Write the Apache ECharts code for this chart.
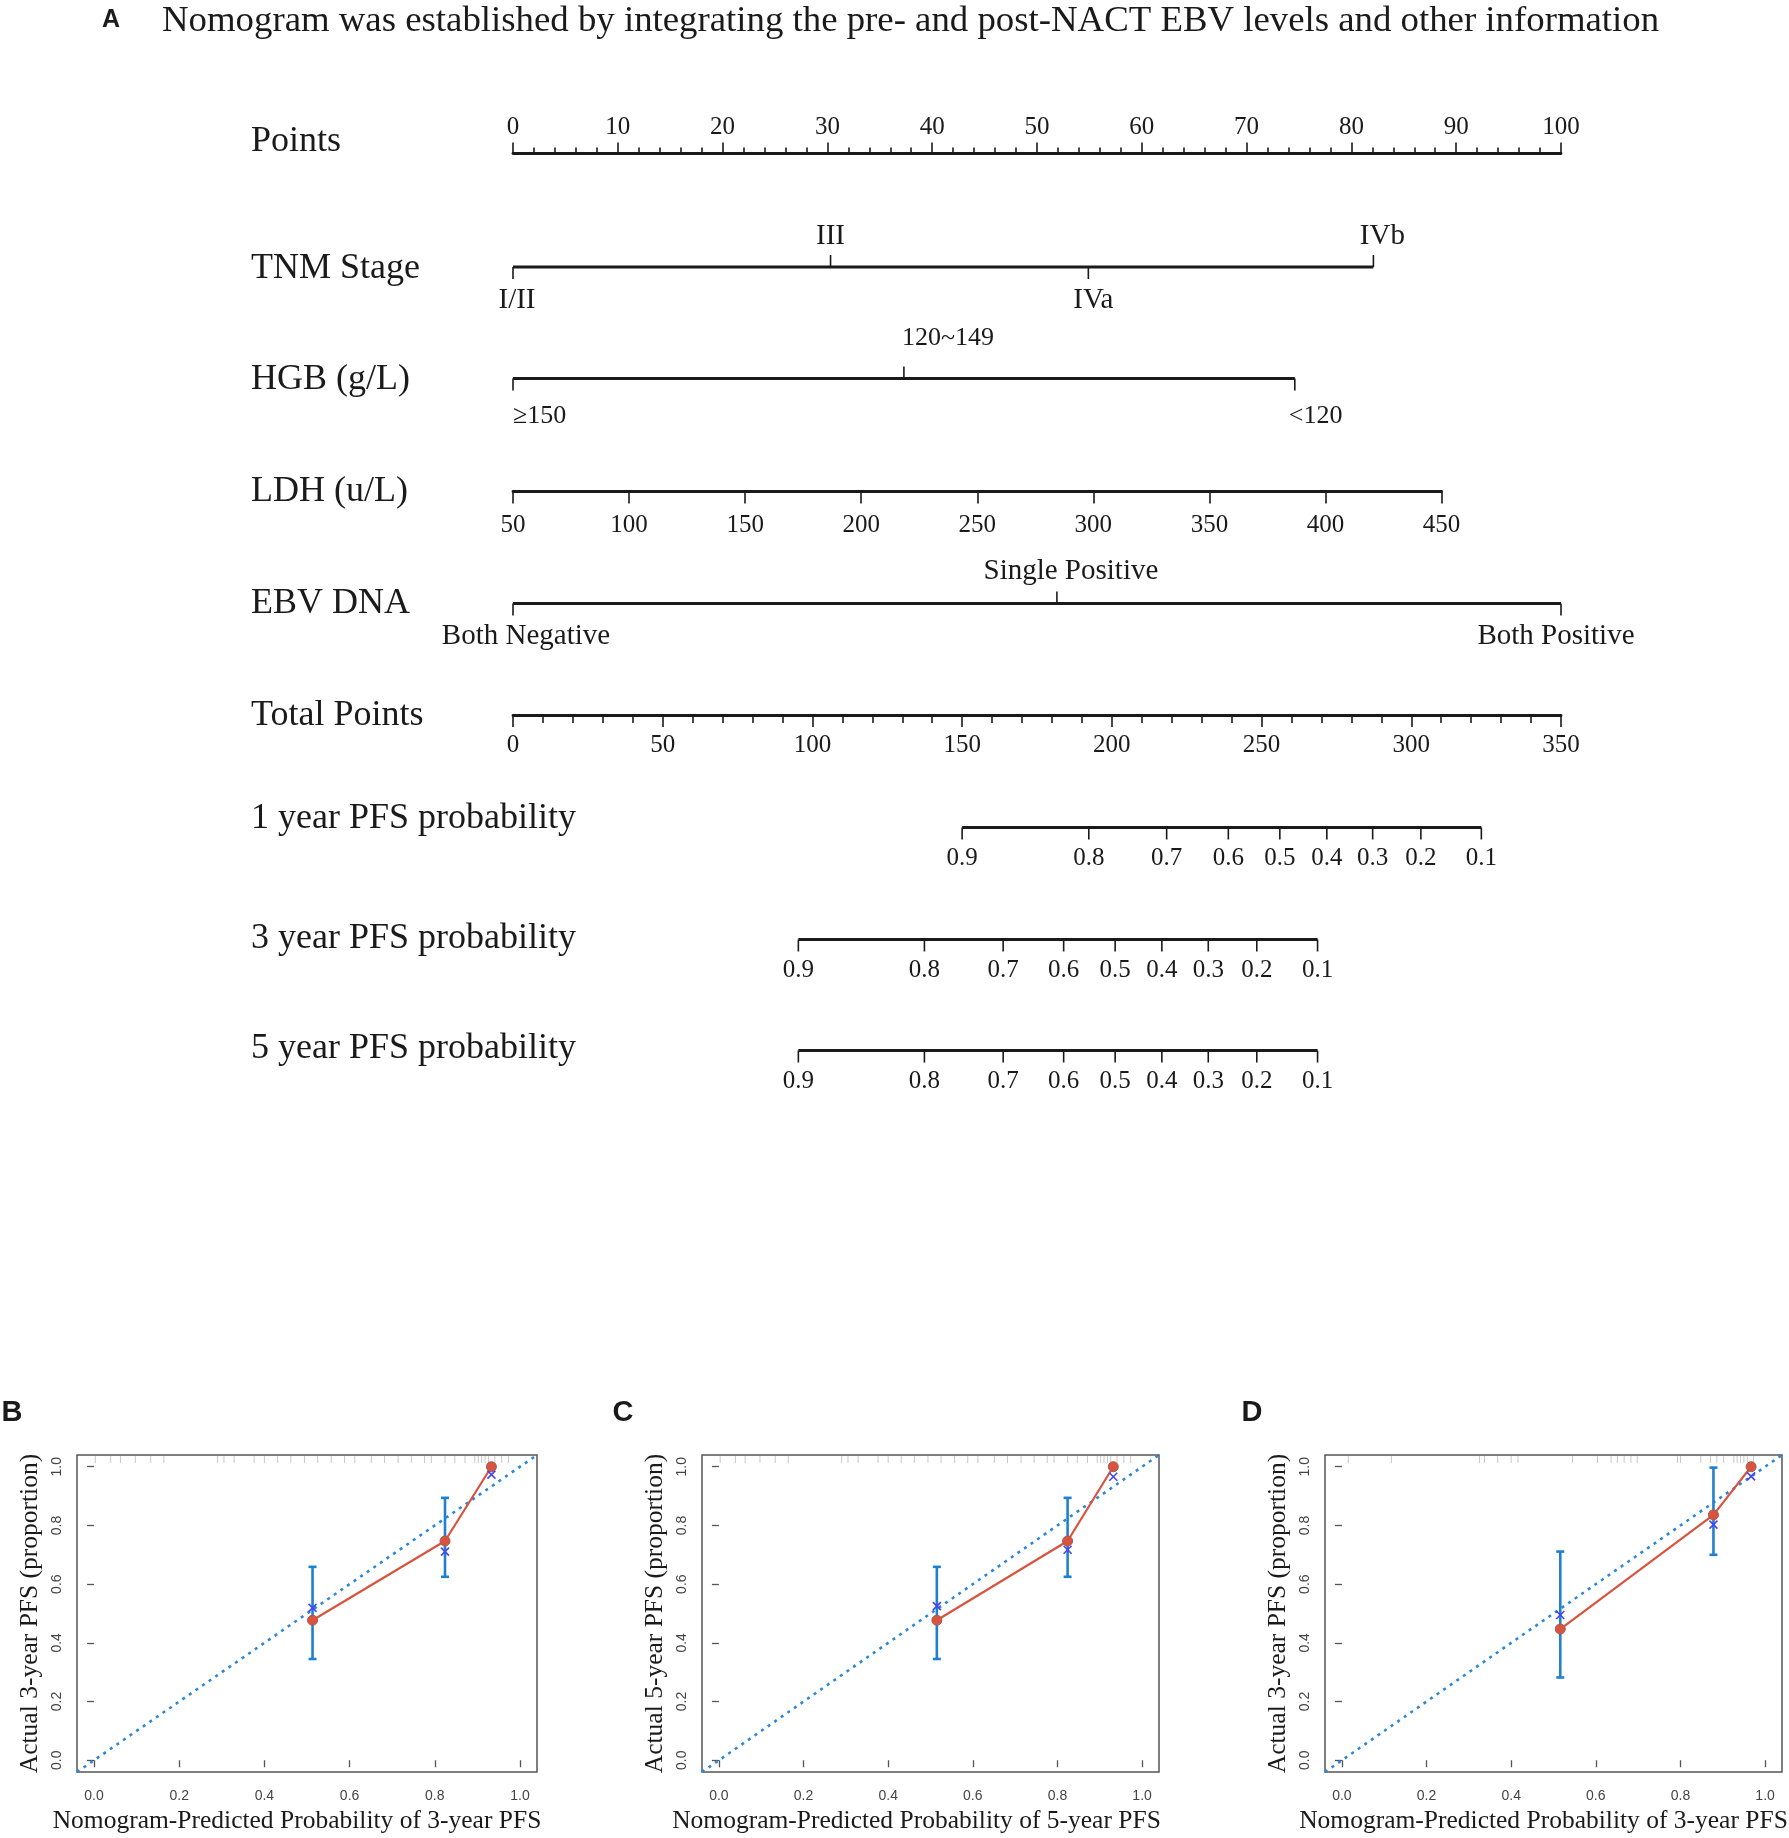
<!DOCTYPE html>
<html>
<head>
<meta charset="utf-8">
<title>Nomogram and calibration curves</title>
<script src="https://cdn.jsdelivr.net/npm/echarts@6/dist/echarts.min.js"></script>
<style>
  html, body { margin: 0; padding: 0; background: #fff; }
  #chart { width: 1789px; height: 1838px; }
</style>
</head>
<body>
<div id="chart"></div>
<script>
// ---------------- nomogram values (points scale 0-100) ----------------
const rowNames = ['Points', 'TNM Stage', 'HGB (g/L)', 'LDH (u/L)', 'EBV DNA', 'Total Points',
  '1 year PFS probability', '3 year PFS probability', '5 year PFS probability'];

const tnmLabels = ['I/II', 'III', 'IVa', 'IVb'];
const tnmPoints = [0, 30.3, 54.9, 82.1];

const hgbLabels = ['\u2265150', '120~149', '<120'];
const hgbPoints = [0, 37.3, 74.6];

const ldhMin = 50, ldhMax = 450, ldhStep = 50;
const ldhPointsAtMax = 88.6;

const ebvLabels = ['Both Negative', 'Single Positive', 'Both Positive'];
const ebvPoints = [0, 51.9, 100];

// probability scales, positions in total points (0-350)
const pfsLabels = ['0.9', '0.8', '0.7', '0.6', '0.5', '0.4', '0.3', '0.2', '0.1'];
const pfs1Total = [150.0, 192.3, 218.3, 238.9, 256.1, 271.8, 287.1, 303.2, 323.4];
const pfs3Total = [95.3, 137.4, 163.7, 183.9, 201.1, 216.7, 232.2, 248.4, 268.7];
const pfs5Total = [95.3, 137.4, 163.7, 183.9, 201.1, 216.7, 232.2, 248.4, 268.7];

// ---------------- calibration values ----------------
const calTicks = [0, 0.2, 0.4, 0.6, 0.8, 1.0];

const calBPred = [0.513, 0.824, 0.933];
const calBObs  = [0.477, 0.747, 1.0];
const calBLow  = [0.345, 0.625, null];
const calBHigh = [0.659, 0.894, null];
const calBCorr = [0.519, 0.711, 0.973];
const rugB = [0.003, 0.039, 0.062, 0.097, 0.133, 0.164, 0.29, 0.305, 0.329, 0.376, 0.40, 0.431, 0.462,
  0.494, 0.525, 0.557, 0.588, 0.612, 0.651, 0.682, 0.714, 0.745, 0.776, 0.792, 0.824, 0.847, 0.871,
  0.894, 0.902, 0.91, 0.918, 0.926, 0.941, 0.957, 0.973];

const calCPred = [0.515, 0.824, 0.932];
const calCObs  = [0.477, 0.747, 1.0];
const calCLow  = [0.345, 0.625, null];
const calCHigh = [0.659, 0.894, null];
const calCCorr = [0.525, 0.717, 0.966];
const rugC = [0.003, 0.039, 0.062, 0.097, 0.133, 0.164, 0.29, 0.305, 0.329, 0.376, 0.40, 0.431, 0.462,
  0.494, 0.525, 0.557, 0.588, 0.612, 0.651, 0.682, 0.714, 0.745, 0.776, 0.792, 0.824, 0.847, 0.871,
  0.894, 0.902, 0.91, 0.918, 0.926, 0.941, 0.957, 0.973];

const calDPred = [0.516, 0.878, 0.967];
const calDObs  = [0.447, 0.836, 1.0];
const calDLow  = [0.282, 0.700, null];
const calDHigh = [0.711, 0.997, null];
const calDCorr = [0.495, 0.803, 0.967];
const rugD = [0.015, 0.117, 0.325, 0.337, 0.368, 0.40, 0.416, 0.545, 0.604, 0.636, 0.651, 0.667, 0.683,
  0.698, 0.793, 0.80, 0.848, 0.871, 0.886, 0.902, 0.926, 0.934, 0.942, 0.95, 0.958, 0.973];

// ---------------- layout / style ----------------
const SERIF = '"Liberation Serif", "Times New Roman", serif';
const SANS = '"Liberation Sans", Arial, sans-serif';
const INK = '#1a1a1a';
const LINE_W = 2.8;
const TICK_W = 1.6;

const NOMO_L = 513, NOMO_W = 1048;
const rowLineY = [153.5, 267, 378.5, 491.5, 603.5, 715, 827.5, 939.5, 1050.5];
const rowLabelY = [142, 269, 380, 491.7, 604, 716, 818.3, 938.3, 1048.3];
const ROW_LABEL_X = 251;

// label placement per tick: side, horizontal nudge (px), alignment
const tnmLayout = { side: ['down', 'up', 'down', 'up'], dx: [4, 0, 5, 9], align: 'center', up: 31, down: 33 };
const hgbLayout = { side: ['down', 'up', 'down'], dx: [0, -2, -6], align: 'left', up: 40, down: 37.5 };
const ebvLayout = { side: ['down', 'up', 'down'], dx: [13, 14, -5], align: 'center', up: 32, down: 33 };
const pfsLayout = { side: null, dx: null, align: 'center', up: 31, down: 31 };

const CAL_TOP = 1455, CAL_H = 317;
const calLeft = [77, 702, 1325];
const calWidth = [460, 457, 457];
const calTitleShift = [10, 14, 10];   // R centres the x title slightly left of the box

const grids = [], xAxes = [], yAxes = [], series = [];

function hiddenY(gi) {
  return { gridIndex: gi, type: 'value', min: -1, max: 1, show: false };
}

function makeGrid(left, width, top, height, extra) {
  return Object.assign({ left: left, width: width, top: top, height: height,
    containLabel: false, outerBoundsMode: 'none' }, extra || {});
}

// one row of the nomogram drawn as a line with labelled ticks
function addTickRow(lineY, xMax, pts, labels, layout, fontSize) {
  const gi = grids.length;
  grids.push(makeGrid(NOMO_L, NOMO_W, lineY - 20, 40));
  xAxes.push({ gridIndex: gi, type: 'value', min: 0, max: xMax, show: false });
  yAxes.push(hiddenY(gi));
  series.push({
    type: 'line', xAxisIndex: gi, yAxisIndex: gi, silent: true, symbol: 'none',
    data: [[Math.min(...pts), 0], [Math.max(...pts), 0]],
    lineStyle: { color: INK, width: LINE_W }
  });
  series.push({
    type: 'custom', xAxisIndex: gi, yAxisIndex: gi, silent: true,
    data: pts.map((p, i) => [p, 0, i]),
    renderItem: (params, api) => {
      const p = api.coord([api.value(0), 0]);
      const i = api.value(2);
      const up = layout.side && layout.side[i] === 'up';
      const dir = up ? -1 : 1;
      const dx = layout.dx ? layout.dx[i] : 0;
      return {
        type: 'group',
        children: [
          { type: 'line', shape: { x1: p[0], y1: p[1], x2: p[0], y2: p[1] + dir * 12 },
            style: { stroke: INK, lineWidth: TICK_W } },
          { type: 'text', style: { text: labels[i], x: p[0] + dx, y: p[1] + dir * (up ? layout.up : layout.down),
            align: layout.align, verticalAlign: 'middle', fontFamily: SERIF, fontSize: fontSize, fill: INK } }
        ]
      };
    }
  });
}

// row 0: Points ruler
(function () {
  const gi = grids.length;
  grids.push(makeGrid(NOMO_L, NOMO_W, rowLineY[0], 20));
  xAxes.push({
    gridIndex: gi, type: 'value', position: 'top', min: 0, max: 100, interval: 10,
    axisLine: { show: true, onZero: false, lineStyle: { color: INK, width: LINE_W } },
    axisTick: { show: true, length: 11, lineStyle: { color: INK, width: TICK_W } },
    minorTick: { show: true, splitNumber: 5, length: 6, lineStyle: { color: INK, width: TICK_W } },
    axisLabel: { margin: 14, fontFamily: SERIF, fontSize: 25, color: INK },
    splitLine: { show: false }, minorSplitLine: { show: false }
  });
  yAxes.push(hiddenY(gi));
})();

addTickRow(rowLineY[1], 100, tnmPoints, tnmLabels, tnmLayout, 29);
addTickRow(rowLineY[2], 100, hgbPoints, hgbLabels, hgbLayout, 26);

// row 3: LDH on its own linear axis
(function () {
  const gi = grids.length;
  grids.push(makeGrid(NOMO_L, NOMO_W * ldhPointsAtMax / 100, rowLineY[3] - 20, 20));
  xAxes.push({
    gridIndex: gi, type: 'value', position: 'bottom', min: ldhMin, max: ldhMax, interval: ldhStep,
    axisLine: { show: true, onZero: false, lineStyle: { color: INK, width: LINE_W } },
    axisTick: { show: true, length: 12, lineStyle: { color: INK, width: TICK_W } },
    axisLabel: { margin: 21, fontFamily: SERIF, fontSize: 25, color: INK },
    splitLine: { show: false }
  });
  yAxes.push(hiddenY(gi));
})();

addTickRow(rowLineY[4], 100, ebvPoints, ebvLabels, ebvLayout, 29);

// row 5: Total Points ruler
(function () {
  const gi = grids.length;
  grids.push(makeGrid(NOMO_L, NOMO_W, rowLineY[5] - 20, 20));
  xAxes.push({
    gridIndex: gi, type: 'value', position: 'bottom', min: 0, max: 350, interval: 50,
    axisLine: { show: true, onZero: false, lineStyle: { color: INK, width: LINE_W } },
    axisTick: { show: true, length: 12, lineStyle: { color: INK, width: TICK_W } },
    minorTick: { show: true, splitNumber: 5, length: 8, lineStyle: { color: INK, width: TICK_W } },
    axisLabel: { margin: 18, fontFamily: SERIF, fontSize: 25, color: INK },
    splitLine: { show: false }, minorSplitLine: { show: false }
  });
  yAxes.push(hiddenY(gi));
})();

addTickRow(rowLineY[6], 350, pfs1Total, pfsLabels, pfsLayout, 25);
addTickRow(rowLineY[7], 350, pfs3Total, pfsLabels, pfsLayout, 25);
addTickRow(rowLineY[8], 350, pfs5Total, pfsLabels, pfsLayout, 25);

// ---------------- calibration panels ----------------
function addCalPanel(k, pred, obs, low, high, corr, rug, xName, yName) {
  const gi = grids.length;
  grids.push(makeGrid(calLeft[k], calWidth[k], CAL_TOP, CAL_H,
    { show: true, borderColor: '#555', borderWidth: 1.5, backgroundColor: 'transparent' }));
  const axisCommon = {
    gridIndex: gi, type: 'value', min: -0.04, max: 1.04,
    axisLine: { show: false },
    axisTick: { show: true, length: 7, customValues: calTicks, lineStyle: { color: '#555', width: 1.3 } },
    splitLine: { show: false },
    nameLocation: 'middle'
  };
  xAxes.push(Object.assign({}, axisCommon, {
    position: 'bottom', name: xName, nameGap: 36,
    nameTextStyle: { fontFamily: SERIF, fontSize: 25.5, color: INK, padding: [0, 2 * calTitleShift[k], 0, 0] },
    axisLabel: { customValues: calTicks, formatter: v => v.toFixed(1), margin: 17,
      fontFamily: SANS, fontSize: 14, color: '#444' }
  }));
  yAxes.push(Object.assign({}, axisCommon, {
    position: 'left', name: yName, nameGap: 34, nameRotate: 90,
    nameTextStyle: { fontFamily: SERIF, fontSize: 25.5, color: INK },
    axisLabel: { customValues: calTicks, formatter: v => v.toFixed(1), margin: 13, rotate: 90,
      fontFamily: SANS, fontSize: 14, color: '#444' }
  }));

  // rug of predictions along the top edge
  series.push({
    type: 'custom', xAxisIndex: gi, yAxisIndex: gi, silent: true,
    data: rug.map(v => [v]),
    renderItem: (params, api) => {
      const p = api.coord([api.value(0), 1.04]);
      return { type: 'line', shape: { x1: p[0], y1: p[1] + 1, x2: p[0], y2: p[1] + 8 },
        style: { stroke: 'rgba(0,0,0,0.22)', lineWidth: 1 } };
    }
  });
  // ideal line
  series.push({
    type: 'line', xAxisIndex: gi, yAxisIndex: gi, silent: true, symbol: 'none',
    data: [[-0.04, -0.04], [1.04, 1.04]],
    lineStyle: { color: '#2b87d8', width: 2.6, type: [3, 5] }, z: 2
  });
  // error bars
  series.push({
    type: 'custom', xAxisIndex: gi, yAxisIndex: gi, silent: true, z: 3,
    data: pred.map((x, i) => [x, low[i], high[i]]).filter(d => d[1] !== null),
    renderItem: (params, api) => {
      const a = api.coord([api.value(0), api.value(1)]);
      const b = api.coord([api.value(0), api.value(2)]);
      const st = { stroke: '#1f80d0', lineWidth: 2.6 };
      return {
        type: 'group',
        children: [
          { type: 'line', shape: { x1: a[0], y1: a[1], x2: b[0], y2: b[1] }, style: st },
          { type: 'line', shape: { x1: a[0] - 4, y1: a[1], x2: a[0] + 4, y2: a[1] }, style: st },
          { type: 'line', shape: { x1: b[0] - 4, y1: b[1], x2: b[0] + 4, y2: b[1] }, style: st }
        ]
      };
    }
  });
  // observed
  series.push({
    type: 'line', xAxisIndex: gi, yAxisIndex: gi, silent: true,
    data: pred.map((x, i) => [x, obs[i]]),
    symbol: 'circle', symbolSize: 10, showAllSymbol: true,
    itemStyle: { color: '#d9543f', borderColor: '#a35a4e', borderWidth: 1 },
    lineStyle: { color: '#d9543f', width: 2.2 }, z: 4
  });
  // bias-corrected crosses
  series.push({
    type: 'custom', xAxisIndex: gi, yAxisIndex: gi, silent: true, z: 5,
    data: pred.map((x, i) => [x, corr[i]]),
    renderItem: (params, api) => {
      const p = api.coord([api.value(0), api.value(1)]);
      const st = { stroke: '#4545f2', lineWidth: 1.6 };
      return {
        type: 'group',
        children: [
          { type: 'line', shape: { x1: p[0] - 4, y1: p[1] - 4, x2: p[0] + 4, y2: p[1] + 4 }, style: st },
          { type: 'line', shape: { x1: p[0] - 4, y1: p[1] + 4, x2: p[0] + 4, y2: p[1] - 4 }, style: st }
        ]
      };
    }
  });
}

addCalPanel(0, calBPred, calBObs, calBLow, calBHigh, calBCorr, rugB,
  'Nomogram-Predicted Probability of 3-year PFS', 'Actual 3-year PFS (proportion)');
addCalPanel(1, calCPred, calCObs, calCLow, calCHigh, calCCorr, rugC,
  'Nomogram-Predicted Probability of 5-year PFS', 'Actual 5-year PFS (proportion)');
addCalPanel(2, calDPred, calDObs, calDLow, calDHigh, calDCorr, rugD,
  'Nomogram-Predicted Probability of 3-year PFS', 'Actual 3-year PFS (proportion)');

// ---------------- texts ----------------
function panelLetter(text, x, y, size) {
  return { type: 'text', style: { text: text, x: x, y: y, align: 'center', verticalAlign: 'middle',
    fontFamily: SANS, fontWeight: 'bold', fontSize: size, fill: INK } };
}
const graphics = [
  panelLetter('A', 111, 20, 25),
  { type: 'text', style: { text: 'Nomogram was established by integrating the pre- and post-NACT EBV levels and other information',
    x: 162, y: 21, align: 'left', verticalAlign: 'middle', fontFamily: SERIF, fontSize: 36.8, fill: INK } },
  panelLetter('B', 12, 1413, 29),
  panelLetter('C', 623, 1413, 29),
  panelLetter('D', 1252, 1413, 29)
];
rowNames.forEach((name, i) => {
  graphics.push({ type: 'text', style: { text: name, x: ROW_LABEL_X, y: rowLabelY[i],
    align: 'left', verticalAlign: 'middle', fontFamily: SERIF, fontSize: 36, fill: INK } });
});

const chart = echarts.init(document.getElementById('chart'));
chart.setOption({
  backgroundColor: '#fff',
  animation: false,
  grid: grids,
  xAxis: xAxes,
  yAxis: yAxes,
  series: series,
  graphic: graphics
});
</script>
</body>
</html>
